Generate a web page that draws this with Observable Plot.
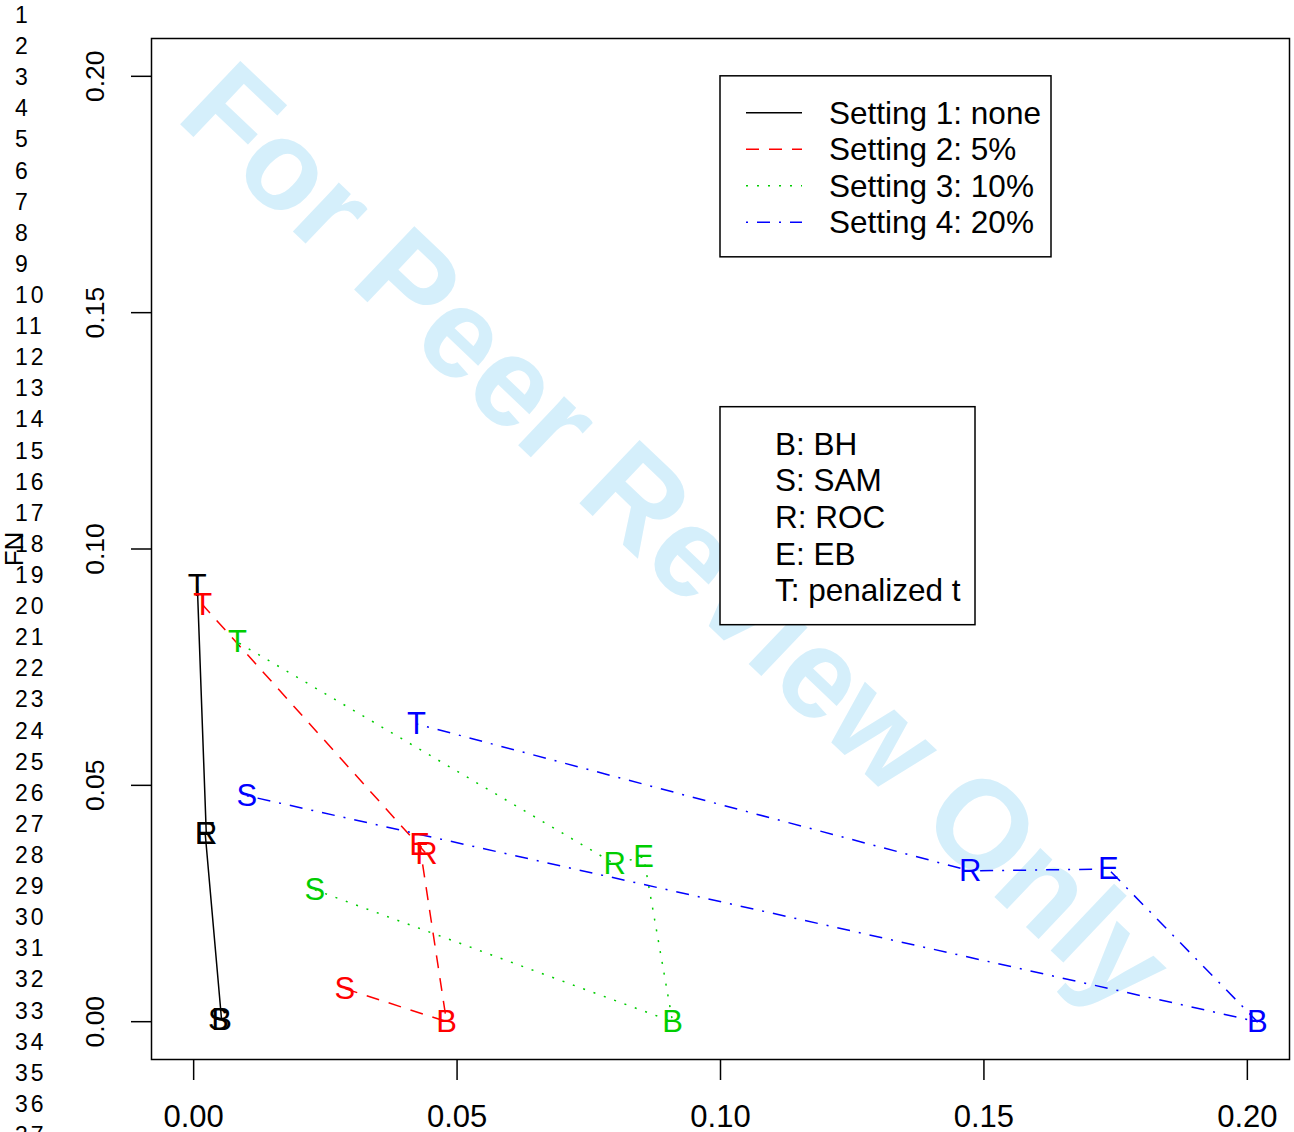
<!DOCTYPE html>
<html><head><meta charset="utf-8">
<script src="https://cdn.jsdelivr.net/npm/d3@7"></script>
<script src="https://cdn.jsdelivr.net/npm/@observablehq/plot@0.6"></script>
<style>
body{margin:0;background:#fff;}
#chart{position:relative;width:1294px;height:1132px;overflow:hidden;}
svg{display:block;}
</style>
</head><body><div id="chart"></div>
<script>
// ---- data (method order along each polyline) ----
const methods = ["S", "B", "E", "R", "T"];
const settings = ["Setting 1: none", "Setting 2: 5%", "Setting 3: 10%", "Setting 4: 20%"];
const colors = ["#000000", "#FF0000", "#00CD00", "#0000FF"];
const dashes = [null, "13,10", "2,9", "2,9,13,9"];
const fp1 = [0.0047, 0.0053, 0.0022, 0.0024, 0.0007];
const fn1 = [0.0004, 0.0004, 0.0397, 0.0397, 0.0922];
const fp2 = [0.0287, 0.0480, 0.0429, 0.0442, 0.0017];
const fn2 = [0.0070, 0.0000, 0.0374, 0.0355, 0.0882];
const fp3 = [0.0230, 0.0909, 0.0854, 0.0799, 0.0083];
const fn3 = [0.0279, 0.0000, 0.0349, 0.0334, 0.0803];
const fp4 = [0.0101, 0.2019, 0.1736, 0.1474, 0.0423];
const fn4 = [0.0478, 0.0000, 0.0323, 0.0319, 0.0630];
const xTicks = [0, 0.05, 0.10, 0.15, 0.20];
const yTicks = [0, 0.05, 0.10, 0.15, 0.20];
const methodLegend = ["B: BH", "S: SAM", "R: ROC", "E: EB", "T: penalized t"];
const lineNumbers = d3.range(1, 38);
const watermark = "For Peer Review Only";
const yLabel = "FN";

const FONT = "'Liberation Sans', Arial, Helvetica, sans-serif";
const fpAll = [fp1, fp2, fp3, fp4], fnAll = [fn1, fn2, fn3, fn4];
const rows = [];
settings.forEach((s, i) => methods.forEach((m, j) => rows.push({setting: s, method: m, fp: fpAll[i][j], fn: fnAll[i][j]})));

const fmt = d3.format(".2f");
const lineMarks = settings.map((s, i) => Plot.line(rows.filter(r => r.setting === s), {
  x: "fp", y: "fn", stroke: colors[i], strokeWidth: 1.5,
  strokeDasharray: dashes[i] || undefined, strokeLinecap: "butt", strokeLinejoin: "round"
}));

const plot = Plot.plot({
  width: 1294, height: 1132,
  marginLeft: 151, marginRight: 5, marginTop: 38, marginBottom: 73,
  style: {fontFamily: FONT, background: "white", color: "black"},
  x: {domain: [-0.008, 0.208]},
  y: {domain: [-0.008, 0.208]},
  color: {domain: settings, range: colors},
  marks: [
    Plot.text([watermark], {frameAnchor: "middle", dx: -73, dy: 19, rotate: 43.5, lineAnchor: "bottom",
      fontSize: 127, fontWeight: "bold", fill: "#d5effb", text: d => d}),
    ...lineMarks,
    Plot.text(rows, {x: "fp", y: "fn", text: "method", fill: "setting", fontSize: 31}),
    Plot.frame({stroke: "black", strokeWidth: 1.5}),
    Plot.axisX({ticks: xTicks, tickSize: 21, tickPadding: 24, tickFormat: fmt, fontSize: 31, strokeWidth: 1.5, label: null}),
    Plot.axisY({ticks: yTicks, tickSize: 20, tickFormat: () => "", strokeWidth: 1.5, label: null}),
    Plot.text(yTicks, {y: d => d, text: d => fmt(d), frameAnchor: "left", dx: -56, rotate: -90,
      textAnchor: "middle", lineAnchor: "middle", fontSize: 26.5}),
    Plot.text([yLabel], {frameAnchor: "left", dx: -137, rotate: -90, textAnchor: "middle",
      lineAnchor: "middle", fontSize: 26, text: d => d})
  ]
});
document.getElementById("chart").appendChild(plot);

const svg = d3.select(plot);
const sx = plot.scale("x"), sy = plot.scale("y");

// peer-review line numbers in the left margin
svg.append("g").attr("font-family", FONT).attr("font-size", 23).attr("letter-spacing", 3)
  .attr("text-anchor", "start")
  .selectAll("text").data(lineNumbers).join("text")
  .attr("x", 15).attr("y", (d, i) => 15 + i * 31.11).attr("dy", "0.35em").text(d => d);

// Legend 1: settings (placed at data point x=0.10, y=0.20)
{
  const x0 = sx.apply(0.10), y0 = sy.apply(0.20);
  const g = svg.append("g").attr("font-family", FONT).attr("font-size", 31.5).attr("text-anchor", "start");
  g.append("rect").attr("x", x0).attr("y", y0).attr("width", 331).attr("height", 181)
    .attr("fill", "white").attr("stroke", "black").attr("stroke-width", 1.5);
  settings.forEach((s, i) => {
    const yy = y0 + 37 + i * 36.5;
    g.append("line").attr("x1", x0 + 26).attr("x2", x0 + 82).attr("y1", yy).attr("y2", yy)
      .attr("stroke", colors[i]).attr("stroke-width", 1.5)
      .attr("stroke-dasharray", dashes[i]);
    g.append("text").attr("x", x0 + 109).attr("y", yy).attr("dy", "0.35em").text(s);
  });
}
// Legend 2: method abbreviations (placed at x=0.10, y=0.13)
{
  const x0 = sx.apply(0.10), y0 = sy.apply(0.13);
  const g = svg.append("g").attr("font-family", FONT).attr("font-size", 31.5).attr("text-anchor", "start");
  g.append("rect").attr("x", x0).attr("y", y0).attr("width", 255).attr("height", 218)
    .attr("fill", "white").attr("stroke", "black").attr("stroke-width", 1.5);
  methodLegend.forEach((s, i) => {
    const yy = y0 + 37 + i * 36.6;
    g.append("text").attr("x", x0 + 55).attr("y", yy).attr("dy", "0.35em").text(s);
  });
}
</script>
</body></html>
